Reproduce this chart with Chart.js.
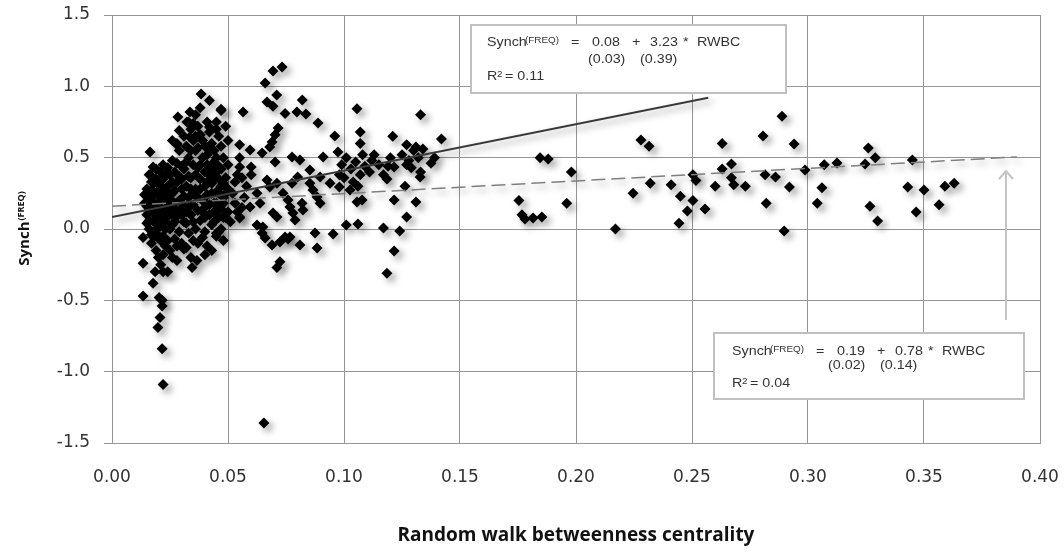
<!DOCTYPE html>
<html>
<head>
<meta charset="utf-8">
<script src="https://cdn.jsdelivr.net/npm/chart.js@4/dist/chart.umd.min.js"></script>
<style>
  body { margin: 0; background: #fff; }
  #wrap { width: 1064px; height: 553px; }
</style>
</head>
<body>
<div id="wrap"><canvas id="chart" width="1064" height="553"></canvas></div>
<script>
// tick labels
const xTickLabels = ['0.00', '0.05', '0.10', '0.15', '0.20', '0.25', '0.30', '0.35', '0.40'];
const yTickLabels = ['-1.5', '-1.0', '-0.5', '0.0', '0.5', '1.0', '1.5'];

// [RWBC, Synch]
const clusterLeft = [
  [0.015,0.28],[0.016,0.22],[0.017,0.15],[0.015,0.10],[0.018,0.05],[0.016,0.0],[0.019,-0.03],[0.017,-0.1],[0.018,0.32],[0.019,0.25],
  [0.020,0.18],[0.018,0.12],[0.020,0.08],[0.019,-0.15],[0.020,-0.2],[0.021,0.02],[0.016,0.38],[0.019,0.42],[0.017,0.20],[0.021,0.30],
  [0.022,0.35],[0.023,0.27],[0.021,0.22],[0.024,0.16],[0.022,0.11],[0.023,0.05],[0.025,0.0],[0.022,-0.05],[0.024,-0.08],[0.023,-0.12],
  [0.021,-0.25],[0.024,-0.3],[0.022,0.45],[0.025,0.38],[0.024,0.3],[0.023,0.2],[0.025,0.13],[0.021,0.08],[0.025,-0.15],[0.022,-0.18],
  [0.026,0.48],[0.027,0.4],[0.028,0.33],[0.026,0.25],[0.029,0.2],[0.027,0.14],[0.028,0.09],[0.026,0.03],[0.029,-0.02],[0.027,-0.07],
  [0.028,-0.12],[0.026,-0.2],[0.029,0.55],[0.030,0.44],[0.030,0.28],[0.030,0.1],[0.030,-0.1],[0.028,0.6],[0.027,0.18],[0.029,0.37],
  [0.014,0.24],[0.015,0.16],[0.016,0.06],[0.017,-0.04],[0.018,0.26],[0.020,0.13],[0.021,-0.08],[0.023,0.0],[0.024,0.24],[0.026,0.1],
  [0.0134,-0.06],[0.0134,-0.24],[0.0134,-0.47],[0.0177,-0.38],[0.0186,-0.30],[0.0216,-0.50],[0.0216,-0.54],[0.0207,-0.62],[0.0198,-0.69],
  [0.0216,-0.84],[0.022,-1.09],[0.028,-0.22],[0.022,-0.30],[0.0203,-0.48],[0.0164,0.54],[0.0177,0.435],[0.0164,0.38],[0.0198,0.344],
  [0.026,0.62],[0.028,0.59],[0.029,0.69],[0.0284,0.785]
];

const clusterFill = [
  [0.017,0.33],[0.018,0.19],[0.019,0.09],[0.020,0.01],[0.021,0.15],[0.022,0.25],[0.023,0.38],[0.024,0.09],[0.025,0.21],[0.026,0.33],
  [0.027,0.05],[0.027,0.27],[0.028,0.46],[0.029,0.13],[0.030,0.35],[0.031,0.05],[0.031,0.23],[0.032,0.47],[0.033,0.15],[0.033,0.37],
  [0.034,0.28],[0.034,0.55],[0.035,0.05],[0.035,0.17],[0.036,0.38],[0.036,0.65],[0.037,0.22],[0.037,0.57],[0.038,0.28],[0.038,0.45],
  [0.039,0.12],[0.039,0.62],[0.040,0.08],[0.040,0.22],[0.041,0.33],[0.041,0.45],[0.042,0.17],[0.042,0.55],[0.043,0.25],[0.043,0.42],
  [0.044,0.05],[0.044,0.35],[0.045,0.18],[0.045,0.5],[0.046,0.08],[0.046,0.25],[0.047,0.42],[0.047,0.14],[0.048,0.32],[0.049,0.25],
  [0.014,0.18],[0.015,0.04],[0.016,0.14],[0.017,0.27],[0.018,-0.06],[0.019,0.35],[0.020,0.27],[0.021,0.4],[0.023,0.13],[0.024,0.43]
];

const clusterRight = [
  [0.031,0.65],[0.032,0.58],[0.033,0.5],[0.031,0.42],[0.034,0.36],[0.032,0.3],[0.033,0.22],[0.031,0.16],[0.034,0.1],[0.032,0.04],
  [0.033,-0.03],[0.035,-0.08],[0.031,-0.14],[0.034,0.7],[0.035,0.62],[0.035,0.45],[0.035,0.25],[0.033,0.75],[0.032,0.12],[0.034,-0.2],
  [0.036,0.8],[0.037,0.72],[0.038,0.66],[0.036,0.55],[0.039,0.5],[0.037,0.43],[0.038,0.35],[0.036,0.28],[0.039,0.2],[0.037,0.13],
  [0.038,0.06],[0.036,0.0],[0.039,-0.06],[0.037,-0.1],[0.040,0.58],[0.040,0.4],[0.040,0.3],[0.040,0.15],[0.038,0.85],[0.040,-0.02],
  [0.041,0.75],[0.042,0.68],[0.043,0.6],[0.041,0.52],[0.044,0.47],[0.042,0.38],[0.043,0.32],[0.041,0.24],[0.044,0.18],[0.042,0.1],
  [0.043,0.03],[0.045,-0.05],[0.041,-0.12],[0.044,0.55],[0.045,0.4],[0.045,0.26],[0.045,0.7],[0.042,0.9],[0.044,0.12],[0.043,-0.15],
  [0.046,0.65],[0.047,0.58],[0.048,0.5],[0.046,0.44],[0.049,0.36],[0.047,0.3],[0.048,0.22],[0.046,0.15],[0.049,0.08],[0.047,0.0],
  [0.048,-0.08],[0.050,0.62],[0.050,0.45],[0.050,0.28],[0.050,0.12],[0.047,0.84],[0.049,0.72],[0.046,-0.02],[0.048,0.18],[0.046,0.35],
  [0.0384,0.947],[0.0336,0.82],[0.0323,0.75],[0.035,0.74],[0.047,0.83],[0.045,0.75],[0.042,0.715],[0.0336,0.645],[0.038,0.66],
  [0.0345,-0.27],[0.0366,-0.22],[0.040,-0.18],[0.045,-0.03],[0.048,0.08],[0.032,-0.13]
];

const midGroup = [
  [0.052,0.25],[0.053,0.18],[0.054,0.12],[0.051,0.05],[0.057,0.22],[0.058,0.3],[0.056,0.15],[0.053,0.33],
  [0.0565,0.82],[0.055,0.59],[0.0595,0.554],[0.0647,0.533],[0.055,0.50],[0.055,0.435],[0.060,0.435],[0.054,0.38],[0.056,0.36],[0.060,0.38],
  [0.0776,0.505],[0.081,0.484],[0.0703,0.47],[0.091,0.505],[0.0974,0.54],[0.0853,0.414],[0.080,0.365],[0.0776,0.32],[0.0668,0.344],
  [0.0711,0.32],[0.068,0.295],[0.0897,0.365],[0.094,0.32],[0.098,0.38],[0.0853,0.32],[0.0866,0.273],[0.0884,0.224],[0.0897,0.18],
  [0.0737,0.25],[0.0759,0.203],[0.0767,0.154],[0.078,0.112],[0.0789,0.063],[0.0819,0.18],[0.0823,0.133],[0.0625,0.25],[0.0638,0.18],
  [0.0595,0.154],[0.055,0.084],[0.098,0.295],[0.1026,0.273],[0.065,0.014],[0.0647,-0.028],[0.0875,-0.028],[0.0953,-0.035],
  [0.0746,-0.056],[0.0694,0.112],[0.0711,0.084],[0.055,0.077],[0.0625,0.028],[0.066,-0.063],[0.069,-0.112],[0.0724,-0.091],
  [0.0759,-0.07],[0.0767,-0.056],[0.081,-0.112],[0.0884,-0.133],[0.0724,-0.23],[0.0711,-0.27],
  [0.0694,1.108],[0.0733,1.136],[0.066,1.024],[0.071,0.94],[0.0668,0.89],[0.0694,0.86],[0.082,0.905],[0.0746,0.81],[0.0797,0.82],
  [0.0836,0.806],[0.0888,0.743],[0.0716,0.708],[0.0703,0.66],[0.069,0.61],[0.068,0.575],[0.096,0.652],[0.0655,-1.36]
];

const upperGroup = [
  [0.1056,0.842],[0.133,0.80],[0.107,0.68],[0.121,0.65],[0.142,0.63],[0.107,0.60],[0.127,0.59],[0.131,0.575],[0.1375,0.46],
  [0.1216,0.435],[0.1328,0.365],[0.1185,0.35],[0.1263,0.30],[0.1216,0.203],[0.131,0.19],[0.1056,0.19],[0.1078,0.203],[0.127,0.084],
  [0.101,0.028],[0.106,0.035],[0.117,0.007],[0.124,-0.014],[0.1216,-0.154],[0.1185,-0.31],
  [0.099,0.45],[0.101,0.5],[0.103,0.42],[0.105,0.47],[0.107,0.38],[0.109,0.44],[0.111,0.4],[0.104,0.33],[0.108,0.52],[0.1,0.36],
  [0.112,0.48],[0.106,0.3],[0.125,0.52],[0.128,0.48],[0.13,0.55],[0.132,0.5],[0.129,0.43],[0.134,0.56],[0.127,0.45],[0.133,0.4],
  [0.113,0.52],[0.115,0.45],[0.117,0.38],[0.12,0.5],[0.119,0.44],[0.139,0.5]
];

const tailGroup = [
  [0.1754,0.20],[0.1767,0.10],[0.178,0.07],[0.1815,0.077],[0.1853,0.084],[0.1845,0.50],[0.188,0.49],[0.198,0.40],[0.196,0.18],
  [0.217,0.0],[0.2246,0.25],[0.228,0.624],[0.2315,0.58],[0.232,0.32],[0.241,0.31],[0.245,0.23],[0.248,0.126],[0.2444,0.04],
  [0.2504,0.38],[0.2517,0.34],[0.2504,0.20],[0.2556,0.14],[0.260,0.30],[0.263,0.60],[0.263,0.42],[0.267,0.456],[0.267,0.36],
  [0.268,0.31],[0.273,0.30],[0.2806,0.652],[0.2815,0.38],[0.286,0.365],[0.282,0.18],[0.2888,0.79],[0.2897,-0.014],[0.292,0.295],
  [0.294,0.596],[0.2987,0.414],[0.304,0.18],[0.306,0.29],[0.307,0.45],[0.3125,0.463],[0.3246,0.456],[0.326,0.568],[0.329,0.50],
  [0.3267,0.16],[0.33,0.056],[0.343,0.295],[0.345,0.484],[0.3466,0.12],[0.35,0.273],[0.3565,0.17],[0.359,0.30],[0.363,0.32]
];

// fitted lines, end points as drawn
const fitSolidX = [0, 0.257];
const fitSolidY = [0.084, 0.92];
const fitDashX = [0, 0.39];
const fitDashY = [0.16, 0.505];

const toPoints = arr => arr.map(p => ({ x: p[0], y: p[1] }));
const allPoints = toPoints([].concat(clusterLeft, clusterFill, clusterRight, midGroup, upperGroup, tailGroup));
const zip = (xs, ys) => xs.map((x, i) => ({ x: x, y: ys[i] }));

// soft drop shadow like the original marker style
const shadowPlugin = {
  id: 'shadow',
  beforeDatasetDraw(chart) {
    const ctx = chart.ctx;
    ctx.save();
    ctx.shadowColor = 'rgba(0,0,0,0.4)';
    ctx.shadowBlur = 7;
    ctx.shadowOffsetX = 4;
    ctx.shadowOffsetY = 4;
  },
  afterDatasetDraw(chart) {
    chart.ctx.restore();
  }
};

function drawPieces(ctx, pieces, y) {
  pieces.forEach(p => {
    ctx.font = (p.size || 13) + 'px "Liberation Sans", Arial, sans-serif';
    ctx.save();
    ctx.translate(p.x, y + (p.dy || 0));
    ctx.scale(1.1, 1);
    ctx.fillText(p.t, 0, 0);
    ctx.restore();
  });
}

function drawEquationBox(ctx, box, a, b, seA, seB, r2, pos) {
  ctx.save();
  ctx.fillStyle = '#fff';
  ctx.fillRect(box[0], box[1], box[2] - box[0], box[3] - box[1]);
  ctx.strokeStyle = '#c0c0c0';
  ctx.lineWidth = 2;
  ctx.strokeRect(box[0], box[1], box[2] - box[0], box[3] - box[1]);
  ctx.fillStyle = '#333';
  ctx.textBaseline = 'alphabetic';
  const x0 = pos.x;
  drawPieces(ctx, [
    { t: 'Synch', x: x0 },
    { t: '(FREQ)', x: x0 + 38, size: 9, dy: -3 },
    { t: '=', x: x0 + 84 },
    { t: a, x: x0 + 105 },
    { t: '+', x: x0 + 145 },
    { t: b, x: x0 + 163 },
    { t: '*', x: x0 + 196 },
    { t: 'RWBC', x: x0 + 210 }
  ], pos.y1);
  drawPieces(ctx, [
    { t: seA, x: pos.se1 },
    { t: seB, x: pos.se2 }
  ], pos.y2);
  drawPieces(ctx, [
    { t: 'R', x: x0 },
    { t: '2', x: x0 + 10, size: 9, dy: -3 },
    { t: '= ' + r2, x: x0 + 18 }
  ], pos.y3);
  ctx.restore();
}

const extrasPlugin = {
  id: 'extras',
  afterDraw(chart) {
    const ctx = chart.ctx;
    // arrow pointing at the dashed line
    ctx.save();
    ctx.strokeStyle = '#c4c4c4';
    ctx.lineWidth = 2;
    ctx.beginPath();
    ctx.moveTo(1006, 320);
    ctx.lineTo(1006, 171);
    ctx.moveTo(999, 179);
    ctx.lineTo(1006, 171);
    ctx.lineTo(1013, 179);
    ctx.stroke();
    ctx.restore();

    drawEquationBox(ctx, [471, 25, 786, 93], '0.08', '3.23', '(0.03)', '(0.39)', '0.11',
      { x: 487, y1: 46, y2: 63, y3: 80, se1: 588, se2: 640 });
    drawEquationBox(ctx, [714, 333, 1024, 399], '0.19', '0.78', '(0.02)', '(0.14)', '0.04',
      { x: 732, y1: 355, y2: 369, y3: 387, se1: 828, se2: 880 });

    // y axis title with superscript
    ctx.save();
    ctx.translate(25, 229);
    ctx.rotate(-Math.PI / 2);
    ctx.fillStyle = '#111';
    ctx.textBaseline = 'middle';
    ctx.font = 'bold 15px "Open Sans", sans-serif';
    const w1 = ctx.measureText('Synch').width;
    ctx.font = 'bold 9px "Open Sans", sans-serif';
    const w2 = ctx.measureText('(FREQ)').width;
    const start = -(w1 + w2) / 2;
    ctx.font = 'bold 15px "Open Sans", sans-serif';
    ctx.fillText('Synch', start, 0);
    ctx.font = 'bold 9px "Open Sans", sans-serif';
    ctx.fillText('(FREQ)', start + w1 + 1, -4);
    ctx.restore();
  }
};

const ctx = document.getElementById('chart').getContext('2d');
new Chart(ctx, {
  type: 'scatter',
  data: {
    datasets: [
      {
        label: 'fit all',
        data: zip(fitSolidX, fitSolidY),
        showLine: true,
        borderColor: '#3a3a3a',
        borderWidth: 2,
        pointRadius: 0,
        order: 0
      },
      {
        label: 'fit dashed',
        data: zip(fitDashX, fitDashY),
        showLine: true,
        borderColor: '#7f7f7f',
        borderWidth: 1.5,
        borderDash: [14, 6],
        pointRadius: 0,
        order: 0
      },
      {
        label: 'Synch',
        data: allPoints,
        pointStyle: 'rectRot',
        pointRadius: 5.5,
        backgroundColor: '#000',
        borderColor: '#000',
        borderWidth: 0,
        order: 1
      }
    ]
  },
  options: {
    responsive: false,
    animation: false,
    layout: { padding: { top: 15, right: 24, left: 0, bottom: 0 } },
    plugins: {
      legend: { display: false },
      tooltip: { enabled: false }
    },
    scales: {
      x: {
        type: 'linear',
        min: 0,
        max: 0.4,
        afterFit: scale => {
          scale.height = 110;
          scale.paddingLeft = 0;
          scale.paddingRight = 0;
        },
        afterBuildTicks: scale => {
          scale.ticks = xTickLabels.map(t => ({ value: parseFloat(t) }));
        },
        ticks: {
          padding: 24,
          color: '#333',
          font: { family: '"DejaVu Sans", sans-serif', size: 17 },
          callback: (v, i) => xTickLabels[i]
        },
        grid: { color: '#959595', lineWidth: 1, drawTicks: false },
        border: { color: '#959595' },
        title: {
          display: true,
          text: 'Random walk betweenness centrality',
          color: '#111',
          font: { family: '"Open Sans", sans-serif', size: 19, weight: 'bold' },
          padding: { top: 0, bottom: 6 }
        }
      },
      y: {
        type: 'linear',
        min: -1.5,
        max: 1.5,
        afterFit: scale => {
          scale.width = 112;
          scale.paddingTop = 0;
          scale.paddingBottom = 0;
        },
        afterBuildTicks: scale => {
          scale.ticks = yTickLabels.map(t => ({ value: parseFloat(t) }));
        },
        ticks: {
          padding: 14,
          color: '#333',
          font: { family: '"DejaVu Sans", sans-serif', size: 17 },
          callback: (v, i) => yTickLabels[i]
        },
        grid: { color: '#959595', lineWidth: 1, tickLength: 8 },
        border: { color: '#959595' }
      }
    }
  },
  plugins: [shadowPlugin, extrasPlugin]
});
</script>
</body>
</html>
